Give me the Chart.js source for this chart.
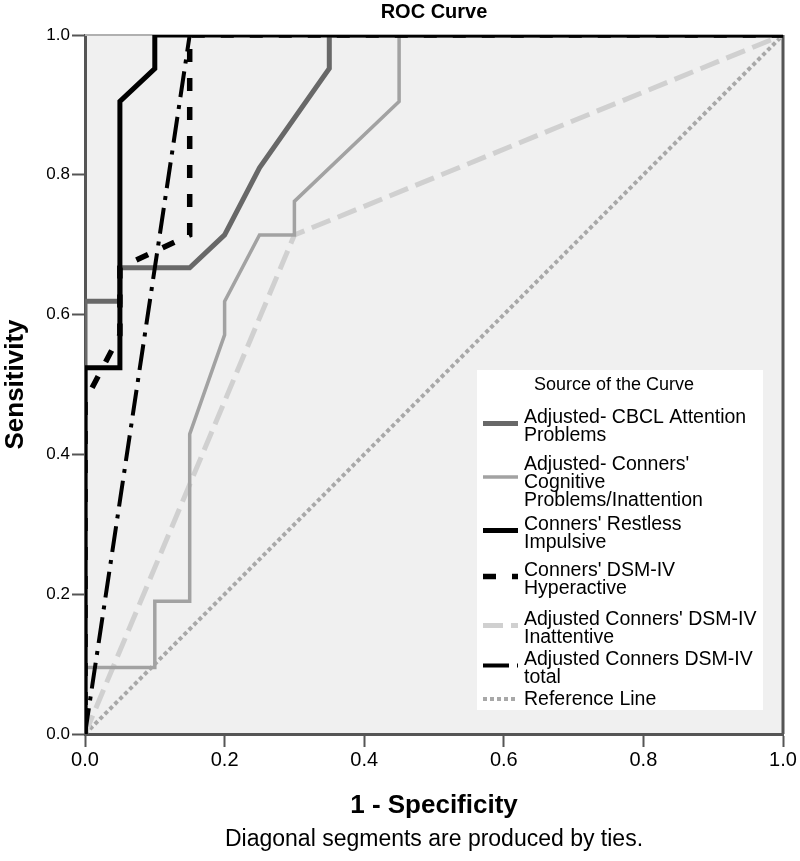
<!DOCTYPE html>
<html>
<head>
<meta charset="utf-8">
<script src="https://cdn.jsdelivr.net/npm/chart.js@4.4.0/dist/chart.umd.min.js"></script>
<style>
    body { margin: 0; background: #fff; }
</style>
</head>
<body>
<canvas id="rocChart" width="800" height="861"></canvas>
<script>
// 1 - specificity / sensitivity pairs
const cbclX = [0, 0, 0.05, 0.05, 0.15, 0.2, 0.25, 0.35, 0.35, 1];
const cbclY = [0, 0.619, 0.619, 0.667, 0.667, 0.714, 0.81, 0.952, 1, 1];

const cognitiveX = [0, 0, 0.1, 0.1, 0.15, 0.15, 0.2, 0.2, 0.25, 0.3, 0.3, 0.45, 0.45, 1];
const cognitiveY = [0, 0.095, 0.095, 0.19, 0.19, 0.429, 0.571, 0.619, 0.714, 0.714, 0.762, 0.905, 1, 1];

const restlessX = [0, 0, 0.05, 0.05, 0.1, 0.1, 1];
const restlessY = [0, 0.524, 0.524, 0.905, 0.952, 1, 1];

const hyperX = [0, 0, 0.05, 0.05, 0.15, 0.15, 1];
const hyperY = [0, 0.476, 0.571, 0.667, 0.714, 1, 1];

const inattX = [0, 0.3, 1];
const inattY = [0, 0.714, 1];

const totalX = [0, 0.15, 1];
const totalY = [0, 1, 1];

const refX = [0, 1];
const refY = [0, 1];

const tickValues = [0, 0.2, 0.4, 0.6, 0.8, 1.0];

const legendTitle = 'Source of the Curve';
const seriesNames = [
    ['Adjusted- CBCL Attention', 'Problems'],
    ["Adjusted- Conners'", 'Cognitive', 'Problems/Inattention'],
    ["Conners' Restless", 'Impulsive'],
    ["Conners' DSM-IV", 'Hyperactive'],
    ["Adjusted Conners' DSM-IV", 'Inattentive'],
    ['Adjusted Conners DSM-IV', 'total'],
    ['Reference Line'],
];

const FONT = "'Liberation Sans', Arial, sans-serif";

function pairs(xs, ys) {
    return xs.map((x, i) => ({ x: x, y: ys[i] }));
}

function line(i, xs, ys, color, width, dash, order) {
    return {
        label: seriesNames[i].join(' '),
        data: pairs(xs, ys),
        borderColor: color,
        borderWidth: width,
        borderDash: dash,
        showLine: true,
        pointRadius: 0,
        fill: false,
        tension: 0,
        order: order,
    };
}

const datasets = [
    line(0, cbclX, cbclY, '#686868', 5, [], 4),
    line(1, cognitiveX, cognitiveY, '#a2a2a2', 3.5, [], 5),
    line(2, restlessX, restlessY, '#000000', 5, [], 1),
    line(3, hyperX, hyperY, '#000000', 5.5, [13, 16], 2),
    line(4, inattX, inattY, '#d0d0d0', 5, [20, 8], 6),
    line(5, totalX, totalY, '#000000', 4, [26, 8, 4, 8], 3),
    line(6, refX, refY, '#a8a8a8', 4, [4, 3], 7),
];

// grey plot background plus the frame on top and right
const plotFrame = {
    id: 'plotFrame',
    beforeDraw(chart) {
        const { ctx, chartArea: a } = chart;
        ctx.save();
        ctx.fillStyle = '#ffffff';
        ctx.fillRect(0, 0, chart.width, chart.height);
        ctx.fillStyle = '#f0f0f0';
        ctx.fillRect(a.left, a.top, a.right - a.left, a.bottom - a.top);
        ctx.restore();
    },
    beforeDatasetsDraw(chart) {
        const { ctx, chartArea: a } = chart;
        ctx.save();
        ctx.strokeStyle = '#b0b0b0';
        ctx.lineWidth = 2;
        ctx.beginPath();
        ctx.moveTo(a.left, a.top);
        ctx.lineTo(a.right, a.top);
        ctx.stroke();
        ctx.strokeStyle = '#555555';
        ctx.lineWidth = 3;
        ctx.beginPath();
        ctx.moveTo(a.right, a.top);
        ctx.lineTo(a.right, a.bottom);
        ctx.stroke();
        ctx.restore();
    },
};

// SPSS-style legend box inside the plot
const curveLegend = {
    id: 'curveLegend',
    afterDraw(chart) {
        const { ctx, chartArea: a } = chart;
        const left = a.left + 392;
        const top = a.top + 335;
        const rowBase = [53, 100, 160, 206, 255, 295, 335];
        const lineGap = 18;
        ctx.save();
        ctx.fillStyle = '#ffffff';
        ctx.fillRect(left, top, 286, 340);

        ctx.fillStyle = '#000000';
        ctx.font = '18px ' + FONT;
        ctx.textAlign = 'center';
        ctx.textBaseline = 'alphabetic';
        ctx.fillText(legendTitle, left + 137, top + 20);

        ctx.font = '19.5px ' + FONT;
        ctx.textAlign = 'left';
        chart.data.datasets.forEach((ds, i) => {
            const lines = seriesNames[i];
            const base = top + rowBase[i];
            lines.forEach((t, k) => {
                ctx.fillText(t, left + 47, base + k * lineGap);
            });
            const sy = base - 6 + (lines.length - 1) * 6.5;
            ctx.save();
            ctx.strokeStyle = ds.borderColor;
            ctx.lineWidth = ds.borderWidth;
            ctx.setLineDash(ds.borderDash);
            ctx.beginPath();
            ctx.moveTo(left + 6, sy);
            ctx.lineTo(left + 41, sy);
            ctx.stroke();
            ctx.restore();
        });
        ctx.restore();
    },
};

const axisGrid = {
    drawOnChartArea: false,
    drawTicks: true,
    tickLength: 13,
    tickColor: '#555555',
    tickWidth: 2,
};

const config = {
    type: 'scatter',
    data: { datasets: datasets },
    options: {
        responsive: false,
        animation: false,
        layout: { padding: { left: 0, right: 17, top: 0, bottom: 0 } },
        plugins: {
            legend: { display: false },
            tooltip: { enabled: false },
            title: {
                display: true,
                text: 'ROC Curve',
                fullSize: false,
                color: '#000',
                font: { family: FONT, size: 20, weight: 'bold' },
                padding: { top: 0, bottom: 11 },
            },
            subtitle: {
                display: true,
                position: 'bottom',
                text: 'Diagonal segments are produced by ties.',
                fullSize: false,
                color: '#000',
                font: { family: FONT, size: 23 },
                padding: { top: 0, bottom: 8 },
            },
        },
        scales: {
            x: {
                type: 'linear',
                min: 0,
                max: 1,
                afterBuildTicks: (s) => { s.ticks = tickValues.map(v => ({ value: v })); },
                afterFit: (s) => { s.height = 91.4; },
                ticks: {
                    color: '#000',
                    padding: 1,
                    font: { family: FONT, size: 20 },
                    callback: (v) => v.toFixed(1),
                },
                grid: axisGrid,
                border: { color: '#555555', width: 3 },
                title: {
                    display: true,
                    text: '1 - Specificity',
                    color: '#000',
                    font: { family: FONT, size: 26, weight: 'bold' },
                    padding: { top: 0, bottom: 4 },
                },
            },
            y: {
                type: 'linear',
                min: 0,
                max: 1,
                afterBuildTicks: (s) => { s.ticks = tickValues.map(v => ({ value: v })); },
                afterFit: (s) => { s.width = 85; },
                ticks: {
                    color: '#000',
                    padding: 2,
                    font: { family: FONT, size: 17 },
                    callback: (v) => v.toFixed(1),
                },
                grid: axisGrid,
                border: { color: '#555555', width: 3 },
                title: {
                    display: true,
                    text: 'Sensitivity',
                    color: '#000',
                    font: { family: FONT, size: 26, weight: 'bold' },
                    padding: { top: 0, bottom: 0 },
                },
            },
        },
    },
    plugins: [plotFrame, curveLegend],
};

var rocChart = new Chart(document.getElementById('rocChart'), config);
</script>
</body>
</html>
